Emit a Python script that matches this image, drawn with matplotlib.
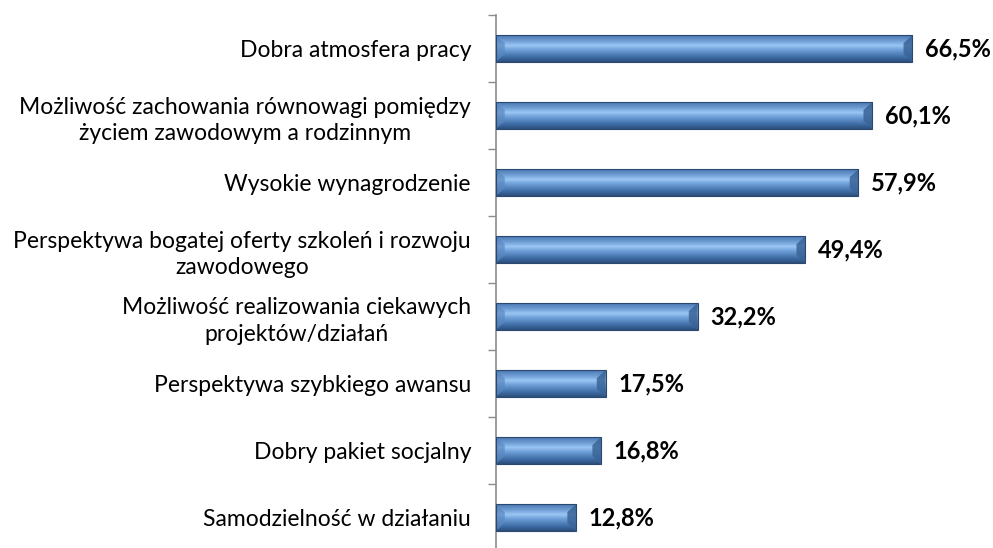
import numpy as np
import matplotlib.pyplot as plt
from matplotlib.colors import LinearSegmentedColormap
from matplotlib.patches import Rectangle, Polygon

categories = [
    'Dobra atmosfera pracy',
    'Możliwość zachowania równowagi pomiędzy\nżyciem zawodowym a rodzinnym',
    'Wysokie wynagrodzenie',
    'Perspektywa bogatej oferty szkoleń i rozwoju\nzawodowego',
    'Możliwość realizowania ciekawych\nprojektów/działań',
    'Perspektywa szybkiego awansu',
    'Dobry pakiet socjalny',
    'Samodzielność w działaniu',
]
values = [66.5, 60.1, 57.9, 49.4, 32.2, 17.5, 16.8, 12.8]
value_labels = ['66,5%', '60,1%', '57,9%', '49,4%', '32,2%', '17,5%', '16,8%', '12,8%']

plt.rcParams['font.family'] = ['Lato', 'DejaVu Sans']

fig = plt.figure(figsize=(9.93, 5.48), dpi=100)
ax = fig.add_axes([496 / 993, -3 / 548, 480 / 993, 536 / 548])

n = len(values)
ypos = np.arange(n)[::-1]
bar_h = 0.4

# vertical gradient for the bevelled bars (bottom -> top)
grad_cmap = LinearSegmentedColormap.from_list('bev', [
    (0.0, '#2c4f7c'), (0.18, '#3f6da6'), (0.45, '#6f9fd8'),
    (0.62, '#9ac6f4'), (0.8, '#6d9bd2'), (1.0, '#4a78b0')])
grad = np.linspace(0, 1, 64).reshape(-1, 1)

for y, v, lab in zip(ypos, values, value_labels):
    ax.imshow(grad, cmap=grad_cmap, origin='lower', aspect='auto',
              extent=(0, v, y - bar_h / 2, y + bar_h / 2), zorder=2)
    # bevel end caps
    dx = 1.4
    b, t = y - bar_h / 2, y + bar_h / 2
    inset = bar_h * 0.3
    ax.add_patch(Polygon([(v, b), (v, t), (v - dx, t - inset), (v - dx, b + inset)],
                         closed=True, facecolor='#3a6496', edgecolor='none', alpha=0.85, zorder=3))
    ax.add_patch(Polygon([(0, b), (0, t), (dx, t - inset), (dx, b + inset)],
                         closed=True, facecolor='#5a88c0', edgecolor='none', alpha=0.7, zorder=3))
    ax.add_patch(Rectangle((0, b), v, bar_h, facecolor='none',
                           edgecolor='#2a4870', linewidth=0.8, zorder=4))
    ax.annotate(lab, (v, y), xytext=(9, 0),
                textcoords='offset points', va='center', ha='left',
                fontsize=17, fontweight='bold', color='black')

ax.set_xlim(0, 480 / 6.26)
ax.set_ylim(-0.5, n - 0.5)

ax.set_yticks(ypos)
ax.set_yticklabels(categories, fontsize=16.5, multialignment='center', linespacing=1.3)
ax.tick_params(axis='y', which='major', length=0, pad=18)
ax.set_yticks(np.arange(n + 1) - 0.5, minor=True)
ax.tick_params(axis='y', which='minor', length=6, color='#8c8c8c', width=1)
ax.set_xticks([])

for s in ['top', 'right', 'bottom']:
    ax.spines[s].set_visible(False)
ax.spines['left'].set_color('#8c8c8c')
ax.spines['left'].set_linewidth(1.2)

fig.savefig('out.png', dpi=100)
